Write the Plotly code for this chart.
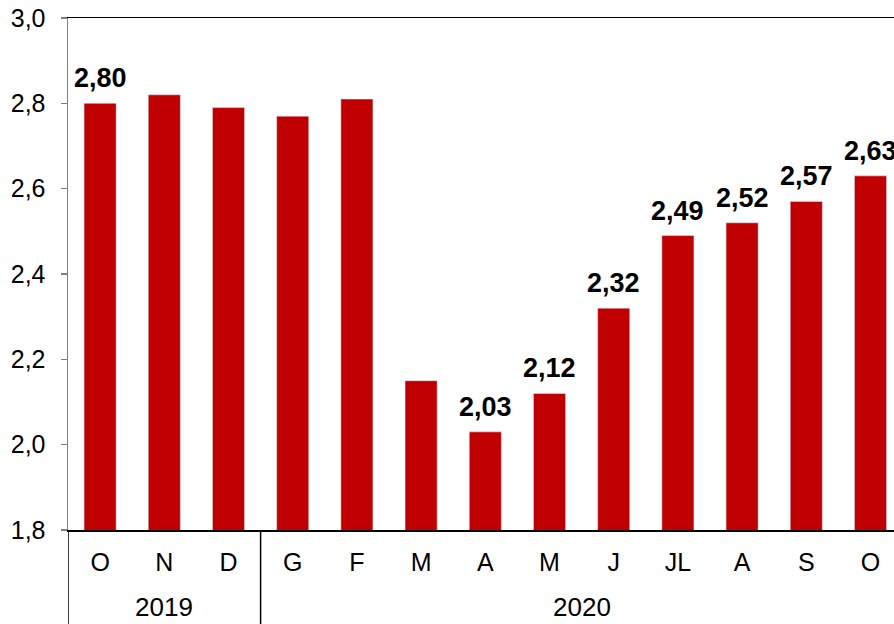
import plotly.graph_objects as go

months = ["O", "N", "D", "G", "F", "M", "A", "M", "J", "JL", "A", "S", "O"]
years = ["2019", "2019", "2019", "2020", "2020", "2020", "2020", "2020", "2020", "2020", "2020", "2020", "2020"]
values = [2.80, 2.82, 2.79, 2.77, 2.81, 2.15, 2.03, 2.12, 2.32, 2.49, 2.52, 2.57, 2.63]
show_label = [True, False, False, False, False, False, True, True, True, True, True, True, True]

x = list(range(len(months)))
W, H = 894, 624
ml, mt, mb = 68, 18, 94
cat_px = 64.2
plot_w = W - ml
x_range = [-0.5, -0.5 + plot_w / cat_px]
plot_h = H - mt - mb

FONT = "Liberation Sans, Arial, sans-serif"

fig = go.Figure()
fig.add_trace(go.Bar(x=x, y=values, marker_color="#C00000", width=0.5, showlegend=False,
                     hoverinfo="skip"))

# data labels
for xi, v, s in zip(x, values, show_label):
    if s:
        fig.add_annotation(x=xi, y=v, text="<b>" + f"{v:.2f}".replace(".", ",") + "</b>",
                           showarrow=False, yanchor="bottom", yshift=8,
                           font=dict(family=FONT, size=27, color="#000000"))

# year groups: labels and dividers
groups = []
for i, yv in enumerate(years):
    if not groups or groups[-1][0] != yv:
        groups.append([yv, i, i])
    else:
        groups[-1][2] = i
for yv, i0, i1 in groups:
    fig.add_annotation(x=(i0 + i1) / 2, y=-77 / plot_h, xref="x", yref="paper",
                       text=yv, showarrow=False, yanchor="middle",
                       font=dict(family=FONT, size=26, color="#000000"))
    fig.add_shape(type="line", x0=i0 - 0.5, x1=i0 - 0.5, y0=0, y1=-mb / plot_h,
                  xref="x", yref="paper", line=dict(color="#000000", width=1.5))

fig.update_layout(
    width=W, height=H,
    margin=dict(l=ml, r=0, t=mt, b=mb, pad=0),
    plot_bgcolor="#FFFFFF", paper_bgcolor="#FFFFFF",
    separators=", ",
    font=dict(family=FONT, size=25, color="#000000"),
    bargap=0.5,
    hovermode=False,
)
fig.update_xaxes(range=x_range, tickvals=x, ticktext=months, showgrid=False, zeroline=False,
                 showline=True, linecolor="#000000", linewidth=1.5, mirror=True, ticks="",
                 tickfont=dict(size=25), ticklabelstandoff=9)
fig.update_yaxes(range=[1.8, 3.0], dtick=0.2, tickformat=".1f", showgrid=False, zeroline=False,
                 showline=True, linecolor="#808080", linewidth=1.5, ticks="outside", ticklen=6,
                 tickcolor="#808080", tickwidth=1.5, tickfont=dict(size=25), ticklabelstandoff=10,
                 ticklabeloverflow="allow")

fig.write_html("out.html", config={"displayModeBar": False, "staticPlot": True},
               post_script="document.body.style.margin='0';document.body.style.overflow='hidden';")
